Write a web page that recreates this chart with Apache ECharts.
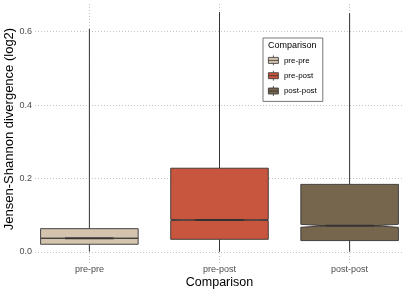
<!DOCTYPE html>
<html><head><meta charset="utf-8">
<script src="https://cdn.jsdelivr.net/npm/echarts@6/dist/echarts.min.js"></script>
<style>html,body{margin:0;padding:0;background:#fff}#c{width:407px;height:291px}</style>
</head><body><div id="c"></div>
<script>
const categories = ['pre-pre', 'pre-post', 'post-post'];
const whiskerLow = [0.001, 0.0005, 0.0005];
const q1 = [0.021, 0.0345, 0.031];
const median = [0.0373, 0.087, 0.0713];
const q3 = [0.0635, 0.228, 0.184];
const whiskerHigh = [0.607, 0.653, 0.650];
const notchHalf = [0.0002, 0.0015, 0.004];
const yTicks = [0, 0.2, 0.4, 0.6];
const colors = ['#D4C4AE', '#C8553D', '#76664E'];

const chart = echarts.init(document.getElementById('c'), null, {renderer: 'canvas'});
const FONT = 'Liberation Sans';
const LINE = '#333333';

function renderBox(params, api) {
  const i = api.value(0);
  const med = api.value(3);
  const c = api.coord([i, med]);
  const hw = api.size([0.75, 0])[0] / 2;
  const x0 = c[0] - hw, x1 = c[0] + hw, ind = hw * 0.5;
  const y = v => api.coord([i, v])[1];
  const yLo = y(api.value(1)), yQ1 = y(api.value(2)), yMed = c[1], yQ3 = y(api.value(4)), yHi = y(api.value(5));
  const n = api.value(6);
  const yNHi = y(med + n), yNLo = y(med - n);
  return {
    type: 'group',
    children: [
      {type: 'line', shape: {x1: c[0], y1: yQ3, x2: c[0], y2: yHi}, style: {stroke: LINE, lineWidth: 1}},
      {type: 'line', shape: {x1: c[0], y1: yQ1, x2: c[0], y2: yLo}, style: {stroke: LINE, lineWidth: 1}},
      {type: 'polygon', shape: {points: [[x0, yQ3], [x0, yNHi], [x0 + ind, yMed], [x0, yNLo], [x0, yQ1], [x1, yQ1], [x1, yNLo], [x1 - ind, yMed], [x1, yNHi], [x1, yQ3]]},
        style: {fill: api.visual('color'), stroke: LINE, lineWidth: 0.9}},
      {type: 'line', shape: {x1: x0 + ind, y1: yMed, x2: x1 - ind, y2: yMed}, style: {stroke: LINE, lineWidth: 2}}
    ]
  };
}

const series = categories.map((name, i) => ({
  name: name,
  type: 'custom',
  renderItem: renderBox,
  itemStyle: {color: colors[i]},
  encode: {x: 0, y: [1, 2, 3, 4, 5]},
  data: [[i, whiskerLow[i], q1[i], median[i], q3[i], whiskerHigh[i], notchHalf[i]]],
  animation: false
}));

chart.setOption({
  animation: false,
  backgroundColor: '#ffffff',
  textStyle: {fontFamily: FONT},
  grid: {left: 35, right: 3, top: 4, bottom: 28, containLabel: false, outerBoundsMode: 'none'},
  title: {
    text: 'Comparison', left: 268, top: 41, padding: 0,
    textStyle: {fontSize: 9, fontWeight: 'normal', color: '#000', fontFamily: FONT}
  },
  legend: {
    orient: 'vertical', left: 263, top: 38,
    padding: [17, 6, 5, 5],
    borderColor: '#555', borderWidth: 0.8, backgroundColor: '#fff',
    itemWidth: 11, itemHeight: 10, itemGap: 4.5,
    icon: 'path://M5,0L5,2M0,2H10V8H0ZM0,5H10M5,8L5,10',
    itemStyle: {borderColor: LINE, borderWidth: 0.8},
    textStyle: {fontSize: 8, color: '#000', fontFamily: FONT},
    data: categories
  },
  xAxis: {
    type: 'value', min: -0.418, max: 2.418,
    name: 'Comparison', nameLocation: 'middle', nameGap: 13, nameMoveOverlap: false,
    nameTextStyle: {fontSize: 12.5, color: '#000', fontFamily: FONT},
    axisLine: {show: false},
    axisTick: {show: false, customValues: [0, 1, 2]},
    axisLabel: {customValues: [0, 1, 2], formatter: v => categories[Math.round(v)], fontSize: 9, color: '#4d4d4d', margin: 2},
    splitLine: {show: true, lineStyle: {color: '#c4c4c4', type: [1, 2], width: 1}}
  },
  yAxis: {
    type: 'value', min: -0.030, max: 0.675,
    name: 'Jensen-Shannon divergence (log2)', nameLocation: 'middle', nameGap: 19, nameMoveOverlap: false,
    nameTextStyle: {fontSize: 13, color: '#000', fontFamily: FONT, padding: [0, 0, 0, 9]},
    axisLine: {show: false},
    axisTick: {show: false, customValues: yTicks},
    axisLabel: {customValues: yTicks, formatter: v => v.toFixed(1), fontSize: 9, color: '#4d4d4d', margin: 3},
    splitLine: {show: true, lineStyle: {color: '#c4c4c4', type: [1, 2], width: 1}}
  },
  series: series
});
</script>
</body></html>
